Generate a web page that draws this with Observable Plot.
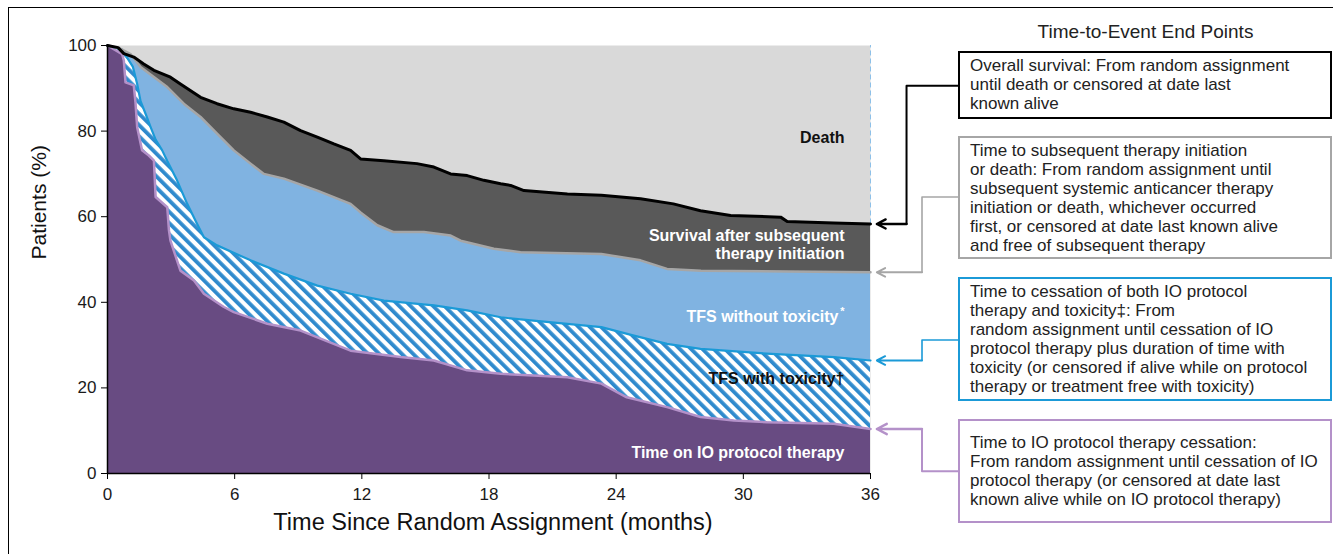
<!DOCTYPE html>
<html>
<head>
<meta charset="utf-8">
<script src="https://cdn.jsdelivr.net/npm/d3@7"></script>
<script src="https://cdn.jsdelivr.net/npm/@observablehq/plot@0.6"></script>
<style>
  html, body { margin: 0; padding: 0; background: #fff; }
  body { font-family: "Liberation Sans", Arial, Helvetica, sans-serif; }
  #wrap { position: relative; width: 1333px; height: 554px; overflow: hidden; background: #fff; }
  #wrap > svg { position: absolute; left: 0; top: 0; }
  #frame { position: absolute; left: 8px; top: 7px; right: -2px; bottom: -2px; border-top: 1px solid #000; border-left: 1px solid #000; }
  .epTitle { position: absolute; left: 958px; width: 375px; text-align: center; font-size: 19px; color: #222; line-height: 22px; }
  .epBox { position: absolute; box-sizing: border-box; left: 958px; width: 374px; background: #fff; }
  .epText { position: absolute; left: 970px; font-size: 17px; line-height: 19px; color: #222; white-space: nowrap; }
</style>
</head>
<body>
<div id="wrap"><div id="frame"></div></div>
<script>
// ---------------- data ----------------
const monthTicks = [0, 6, 12, 18, 24, 30, 36];
const percentTicks = [0, 20, 40, 60, 80, 100];

// Overall survival (black)  [months, %]
const overallSurvival = [
  [0,100],[0.5,99.5],[0.77,98.1],[1.24,97.3],[1.71,95.7],[2.19,94.2],[2.97,92.6],[3.44,91.0],
  [4.39,87.9],[5.17,86.4],[5.96,85.2],[6.75,84.4],[7.54,83.3],[8.32,82.1],[9.11,80.1],[9.9,78.6],
  [10.68,77.0],[11.47,75.5],[11.94,73.5],[13.04,73.1],[14.6,72.4],[15.4,71.6],[16.19,70.0],
  [16.97,69.6],[17.76,68.5],[18.55,67.7],[19.02,67.3],[19.65,66.1],[21.7,65.3],[23.3,65.0],
  [25.15,64.2],[26.7,63.0],[27.98,61.4],[29.4,60.3],[31.76,59.9],[32.07,58.9],[34.27,58.5],[36,58.3]
];
// Time to subsequent therapy initiation or death (grey)
const subsequentTherapyOrDeath = [
  [0,100],[0.6,99.3],[1.09,98.0],[1.56,95.0],[2.03,93.2],[2.82,90.3],[3.6,86.4],[4.39,83.3],
  [5.17,79.4],[5.96,75.5],[6.75,72.4],[7.38,70.0],[8.32,68.9],[9.9,66.1],[11.47,63.0],[11.94,61.0],
  [12.73,58.0],[13.5,56.4],[14.93,56.4],[16.19,55.6],[16.66,54.4],[18.23,52.5],[19.49,51.7],
  [23.3,51.3],[25.15,49.8],[26.4,47.8],[28.0,47.4],[36,47.0]
];
// Time to cessation of both IO protocol therapy and toxicity (blue)
const cessationTherapyAndToxicity = [
  [0,100],[0.7,99.0],[0.77,98.4],[1.2,95.0],[1.4,91.0],[1.56,87.0],[1.8,84.0],[2.03,81.0],
  [2.27,78.0],[2.58,75.5],[2.82,73.0],[3.28,68.5],[3.76,63.0],[4.23,58.3],[4.55,55.2],[5.17,53.3],
  [6.75,49.8],[8.32,46.7],[9.9,43.9],[11.47,42.0],[13.04,40.4],[15.4,39.3],[16.97,38.1],
  [18.55,36.5],[20.1,35.7],[23.3,34.2],[24.84,32.2],[26.4,30.3],[27.98,29.1],[31.1,28.0],
  [34.27,27.2],[36,26.4]
];
// Time to IO protocol therapy cessation (purple)
const ioTherapyCessation = [
  [0,100],[0.69,98.0],[0.77,96.5],[0.85,91.4],[1.24,90.7],[1.32,86.7],[1.4,80.9],[1.63,75.5],
  [1.95,74.3],[2.19,73.1],[2.27,64.6],[2.82,62.2],[2.9,56.8],[2.97,54.4],[3.44,47.4],[4.08,45.1],
  [4.55,42.0],[5.49,38.9],[5.96,37.7],[7.54,35.0],[9.11,33.4],[11.47,28.7],[13.83,27.2],
  [15.4,26.4],[16.97,24.1],[18.55,23.3],[20.1,22.9],[21.7,22.5],[23.3,21.0],[24.5,17.8],
  [26.4,15.5],[27.98,13.2],[29.55,12.4],[31.1,12.0],[34.27,11.6],[36,10.4]
];

const regionLabels = ["Death", "Survival after subsequent\ntherapy initiation", "TFS without toxicity", "TFS with toxicity\u2020", "Time on IO protocol therapy"];
const endPointTitle = "Time-to-Event End Points";
const endPointTexts = [
  ["Overall survival: From random assignment", "until death or censored at date last", "known alive"],
  ["Time to subsequent therapy initiation", "or death: From random assignment until", "subsequent systemic anticancer therapy",
   "initiation or death, whichever occurred", "first, or censored at date last known alive", "and free of subsequent therapy"],
  ["Time to cessation of both IO protocol", "therapy and toxicity\u2021: From", "random assignment until cessation of IO",
   "protocol therapy plus duration of time with", "toxicity (or censored if alive while on protocol", "therapy or treatment free with toxicity)"],
  ["Time to IO protocol therapy cessation:", "From random assignment until cessation of IO",
   "protocol therapy (or censored at date last", "known alive while on IO protocol therapy)"]
];
const xLabel = "Time Since Random Assignment (months)";
const yLabel = "Patients (%)";

// ---------------- styling / layout ----------------
const C = {
  death: "#d9d9d9", afterSub: "#595959", tfsNoTox: "#80b3e1", hatch: "#2f8acd",
  ioFill: "#684b82", osLine: "#000000", subLine: "#a6a6a6", tfsLine: "#1b9ad7", ioLine: "#b491c9"
};
const rows = arr => arr.map(([t, p]) => ({t, p}));
const last = arr => arr[arr.length - 1][1];

const curves = [
  {data: overallSurvival, line: C.osLine, boxY: 90.6, elbow: 37.7, cw: 2},
  {data: subsequentTherapyOrDeath, line: C.subLine, boxY: 64.6, elbow: 38.43, cw: 1.6},
  {data: cessationTherapyAndToxicity, line: C.tfsLine, boxY: 31.2, elbow: 38.43, cw: 1.6},
  {data: ioTherapyCessation, line: C.ioLine, boxY: 0.55, elbow: 38.43, cw: 2}
];
const boxEdge = 40.15, arrowTip = 36.3;

const labelPos = [
  {y: 78.7, color: "#111"}, {y: 53.5, color: "#fff"}, {y: 36.7, color: "#fff"},
  {y: 22.2, color: "#111"}, {y: 4.9, color: "#fff"}
];

const marks = [
  Plot.frame({fill: C.death, stroke: null}),
  Plot.ruleX([36], {y1: last(overallSurvival), y2: 100, stroke: "#8dc0e8", strokeDasharray: "5,3", strokeWidth: 1}),
  Plot.areaY(rows(overallSurvival), {x: "t", y1: 0, y2: "p", fill: C.afterSub}),
  Plot.areaY(rows(subsequentTherapyOrDeath), {x: "t", y1: 0, y2: "p", fill: C.tfsNoTox}),
  Plot.areaY(rows(cessationTherapyAndToxicity), {x: "t", y1: 0, y2: "p", fill: "url(#tfsHatch)"}),
  Plot.areaY(rows(ioTherapyCessation), {x: "t", y1: 0, y2: "p", fill: C.ioFill}),
  Plot.lineY(rows(ioTherapyCessation), {x: "t", y: "p", stroke: C.ioLine, strokeWidth: 2.5}),
  Plot.lineY(rows(cessationTherapyAndToxicity), {x: "t", y: "p", stroke: C.tfsLine, strokeWidth: 2.2}),
  Plot.lineY(rows(subsequentTherapyOrDeath), {x: "t", y: "p", stroke: C.subLine, strokeWidth: 2.5}),
  Plot.lineY(rows(overallSurvival), {x: "t", y: "p", stroke: C.osLine, strokeWidth: 3})
];

// region labels
regionLabels.forEach((txt, i) => {
  marks.push(Plot.text([txt], {
    x: 36, y: labelPos[i].y, text: d => d, textAnchor: "end", dx: i === 2 ? -32 : -26,
    fill: labelPos[i].color, fontSize: 16, fontWeight: "bold", lineHeight: 1.14
  }));
});
marks.push(Plot.text(["*"], {x: 36, y: labelPos[2].y, text: d => d, textAnchor: "end", dx: -26, dy: -5, fill: "#fff", fontSize: 11, fontWeight: "bold"}));

// axes
marks.push(
  Plot.ruleY([0], {stroke: "#000", strokeWidth: 1.5}),
  Plot.ruleX([0], {stroke: "#000", strokeWidth: 1.5}),
  Plot.axisX({ticks: monthTicks, tickSize: 6, tickPadding: 8, fontSize: 17, label: null, stroke: "#000", fill: "#1a1a1a"}),
  Plot.axisY({ticks: percentTicks, tickSize: 6, tickPadding: 5, fontSize: 17, label: null, stroke: "#000", fill: "#1a1a1a"}),
  Plot.text([yLabel], {frameAnchor: "left", text: d => d, dx: -68, rotate: -90, fontSize: 21, fill: "#111"}),
  Plot.text([xLabel], {frameAnchor: "bottom", text: d => d, dx: 4, dy: 56, fontSize: 23.5, fill: "#111"})
);

// connectors from end-point boxes to curve ends
curves.forEach(c => {
  const tipY = last(c.data);
  marks.push(Plot.line([[boxEdge, c.boxY], [c.elbow, c.boxY], [c.elbow, tipY]], {
    x: d => d[0], y: d => d[1], stroke: c.line, strokeWidth: c.cw
  }));
  marks.push(Plot.arrow([{x1: c.elbow, x2: arrowTip, y: tipY}], {
    x1: "x1", x2: "x2", y1: "y", y2: "y", stroke: c.line, strokeWidth: c.cw + 0.4, headLength: 7, headAngle: 55
  }));
});

const svg = Plot.plot({
  width: 1333, height: 554,
  marginLeft: 107, marginRight: 463, marginTop: 45, marginBottom: 81,
  x: {domain: [0, 36]},
  y: {domain: [0, 100]},
  style: {fontFamily: "'Liberation Sans', Arial, Helvetica, sans-serif", background: "transparent", overflow: "visible"},
  marks
});

// hatch pattern for "TFS with toxicity"
const defs = d3.select(svg).insert("defs", ":first-child");
const pat = defs.append("pattern").attr("id", "tfsHatch").attr("patternUnits", "userSpaceOnUse")
  .attr("width", 8).attr("height", 8).attr("patternTransform", "rotate(-45)");
pat.append("rect").attr("width", 8).attr("height", 8).attr("fill", "#fff");
pat.append("rect").attr("width", 3.8).attr("height", 8).attr("fill", C.hatch);

const wrap = document.getElementById("wrap");
wrap.appendChild(svg);

// right-hand end-point panel
const boxLayout = [
  {top: 50.5, height: 68, border: "2px solid #000", firstLine: 56},
  {top: 136, height: 123, border: "2px solid #a6a6a6", firstLine: 140.5},
  {top: 277, height: 124, border: "2px solid " + C.tfsLine, firstLine: 281.5},
  {top: 419, height: 104, border: "2px solid " + C.ioLine, firstLine: 433}
];
const title = document.createElement("div");
title.className = "epTitle";
title.style.top = "21px";
title.textContent = endPointTitle;
wrap.appendChild(title);
endPointTexts.forEach((lines, i) => {
  const b = document.createElement("div");
  b.className = "epBox";
  b.style.top = boxLayout[i].top + "px";
  b.style.height = boxLayout[i].height + "px";
  b.style.border = boxLayout[i].border;
  wrap.appendChild(b);
  const t = document.createElement("div");
  t.className = "epText";
  t.style.top = boxLayout[i].firstLine + "px";
  lines.forEach((ln, j) => {
    if (j) t.appendChild(document.createElement("br"));
    t.appendChild(document.createTextNode(ln));
  });
  wrap.appendChild(t);
});
</script>
</body>
</html>
